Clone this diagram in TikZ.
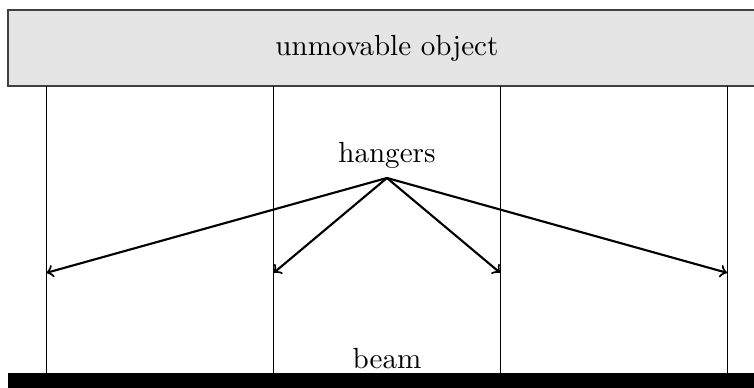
\documentclass[tikz,border=0pt]{standalone}
\begin{document}
\begin{tikzpicture}[x=1cm,y=1cm,
  every node/.style={font=\fontsize{10.95}{13.6}\selectfont},
  objbox/.style={draw=black!75, fill=black!10, line width=0.6pt},
  hanger/.style={draw=black, line width=0.4pt},
  pointer/.style={->, thick}]
\useasboundingbox (0,0) rectangle (9.977,-5.121);
% unmovable object
\begin{scope}
\clip (0,0) rectangle (9.977,-5.121);
\draw[objbox] (0.106,-0.132) rectangle (10.5,-1.138);
\fill[black] (0.106,-4.94) rectangle (10.5,-5.6);
\end{scope}
\node (obj) at (5.12,-0.64) {unmovable object};
\node (hang) at (5.12,-2.05) {hangers};
\node (beam) at (5.12,-4.74) {beam};
\coordinate (src) at (5.12,-2.355);
\foreach \i/\x in {1/0.615,2/3.622,3/6.618,4/9.62}{
  \coordinate (t\i) at (\x,-1.138);
  \coordinate (b\i) at (\x,-4.94);
  \coordinate (m\i) at (\x,-3.61);
  \draw[hanger] (t\i) -- (b\i);
  \draw[pointer] (src) -- (m\i);
}
\end{tikzpicture}
\end{document}
